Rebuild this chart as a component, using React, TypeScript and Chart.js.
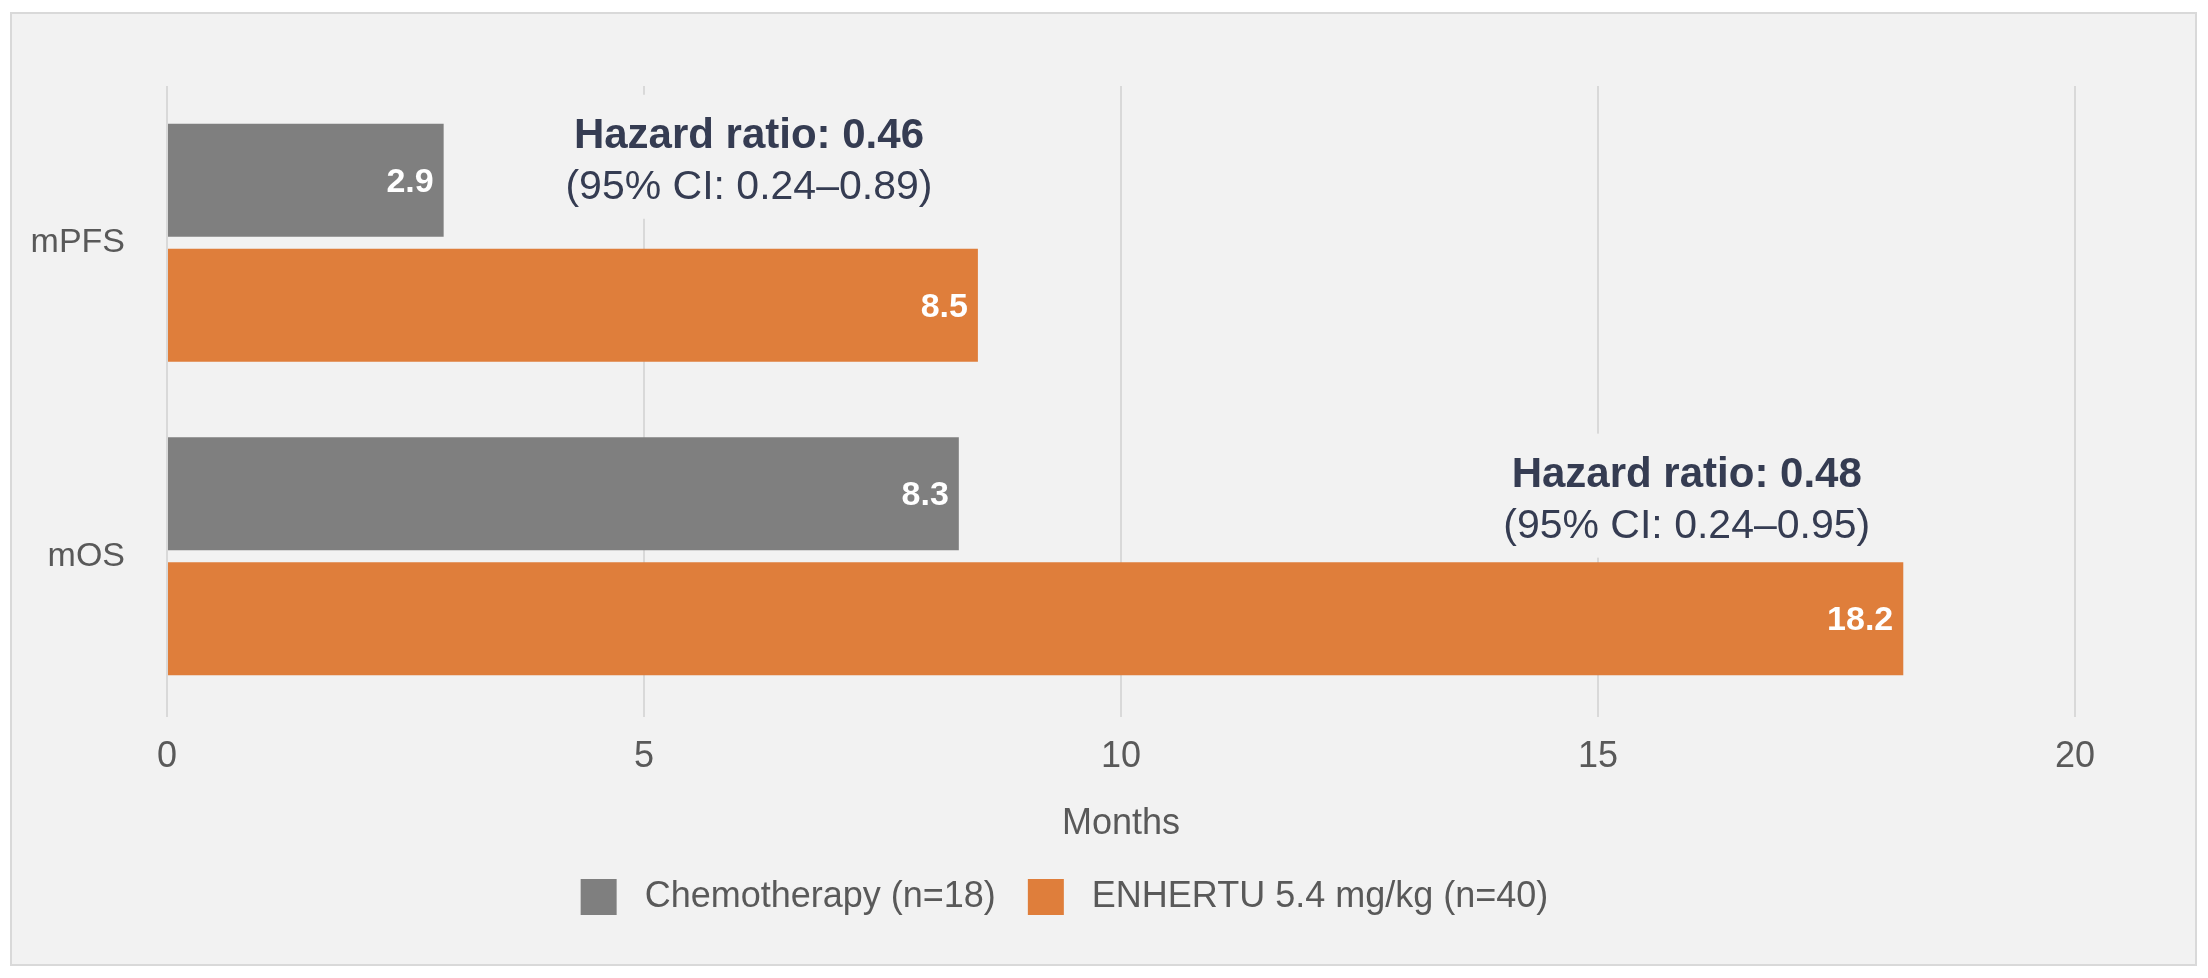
import React, { useEffect, useRef } from 'react';
import { Chart, registerables } from 'chart.js';

Chart.register(...registerables);

// ---- Data ----
const categories = ['mPFS', 'mOS'];
const seriesLabels = ['Chemotherapy (n=18)', 'ENHERTU 5.4 mg/kg (n=40)'];
const chemoValues = [2.9, 8.3];
const enhertuValues = [8.5, 18.2];
const xMin = 0;
const xMax = 20;
const xStep = 5;
const axisTitle = 'Months';
const hazardRatios = ['Hazard ratio: 0.46', 'Hazard ratio: 0.48'];
const confidenceIntervals = ['(95% CI: 0.24–0.89)', '(95% CI: 0.24–0.95)'];
// annotation anchors in data units (x value, category offset for first line baseline)
const noteXValues = [6.1, 15.93];
const noteCategoryOffsets = [-0.303, -0.222];

// ---- Styles ----
const FONT = '"Liberation Sans", Arial, sans-serif';
const GRAY = '#7f7f7f';
const ORANGE = '#df7e3b';
const TEXT = '#595959';
const NAVY = '#353c52';
const BG = '#f2f2f2';
const GRID = '#d9d9d9';

const barLabelsPlugin = {
  id: 'barLabels',
  afterDatasetsDraw(chart: any) {
    const { ctx } = chart;
    ctx.save();
    ctx.font = `bold 34px ${FONT}`;
    ctx.fillStyle = '#ffffff';
    ctx.textAlign = 'right';
    ctx.textBaseline = 'middle';
    chart.data.datasets.forEach((ds: any, di: number) => {
      const meta = chart.getDatasetMeta(di);
      meta.data.forEach((bar: any, i: number) => {
        ctx.fillText(String(ds.data[i]), bar.x - 10, bar.y + 2);
      });
    });
    ctx.restore();
  },
};

const notesPlugin = {
  id: 'hazardNotes',
  afterDatasetsDraw(chart: any) {
    const { ctx } = chart;
    const xs = chart.scales.x;
    const ys = chart.scales.y;
    ctx.save();
    hazardRatios.forEach((hr, i) => {
      const cx = xs.getPixelForValue(noteXValues[i]);
      const base1 = ys.getPixelForValue(i + noteCategoryOffsets[i]);
      const base2 = base1 + 51;
      const boldFont = `bold 42px ${FONT}`;
      const regFont = `41px ${FONT}`;
      ctx.font = boldFont;
      const w1 = ctx.measureText(hr).width;
      ctx.font = regFont;
      const w2 = ctx.measureText(confidenceIntervals[i]).width;
      const w = Math.max(w1, w2) + 40;
      ctx.fillStyle = BG;
      ctx.fillRect(cx - w / 2, base1 - 53, w, base2 + 20 - (base1 - 53));
      ctx.fillStyle = NAVY;
      ctx.textAlign = 'center';
      ctx.textBaseline = 'alphabetic';
      ctx.font = boldFont;
      ctx.fillText(hr, cx, base1);
      ctx.font = regFont;
      ctx.fillText(confidenceIntervals[i], cx, base2);
    });
    ctx.restore();
  },
};

export default function App() {
  const ref = useRef<HTMLCanvasElement>(null);

  useEffect(() => {
    if (!ref.current) return;
    const chart = new Chart(ref.current, {
      type: 'bar',
      data: {
        labels: categories,
        datasets: [
          {
            label: seriesLabels[0],
            data: chemoValues,
            backgroundColor: GRAY,
            borderWidth: 0,
            categoryPercentage: 0.797,
            barPercentage: 0.904,
          },
          {
            label: seriesLabels[1],
            data: enhertuValues,
            backgroundColor: ORANGE,
            borderWidth: 0,
            categoryPercentage: 0.797,
            barPercentage: 0.904,
          },
        ],
      },
      options: {
        indexAxis: 'y',
        responsive: false,
        animation: false,
        devicePixelRatio: 1,
        layout: { padding: { left: 0, top: 72, right: 78, bottom: 39 } },
        scales: {
          x: {
            min: xMin,
            max: xMax,
            ticks: {
              stepSize: xStep,
              color: TEXT,
              font: { family: FONT, size: 36 },
              padding: 18,
              maxRotation: 0,
            },
            grid: {
              color: GRID,
              lineWidth: 2,
              drawTicks: true,
              tickLength: 4,
              tickColor: GRID,
              tickWidth: 2,
            },
            border: { display: false },
            title: {
              display: true,
              text: axisTitle,
              color: TEXT,
              font: { family: FONT, size: 36 },
              padding: { top: 0, bottom: 1 },
            },
            afterFit(scale: any) {
              scale.height = 134;
            },
          },
          y: {
            ticks: {
              color: TEXT,
              font: { family: FONT, size: 34 },
              padding: 42,
            },
            grid: { display: false, drawTicks: false },
            border: { display: false },
            afterFit(scale: any) {
              scale.width = 155;
            },
          },
          ySpacer: {
            type: 'category',
            position: 'right',
            ticks: { display: false },
            grid: { display: false, drawTicks: false },
            border: { display: false },
            afterFit(scale: any) {
              scale.width = 42;
            },
          },
        },
        plugins: {
          legend: {
            position: 'bottom',
            labels: {
              boxWidth: 36,
              boxHeight: 36,
              padding: 32,
              color: TEXT,
              font: { family: FONT, size: 36 },
              generateLabels(c: any) {
                const items = Chart.defaults.plugins.legend.labels.generateLabels(c);
                return items.map((it: any) => ({ ...it, text: ' ' + it.text }));
              },
            },
          },
          tooltip: { enabled: false },
        },
      },
      plugins: [barLabelsPlugin, notesPlugin],
    } as any);
    return () => chart.destroy();
  }, []);

  return (
    <div style={{ position: 'absolute', left: 0, top: 0, width: 2208, height: 978, background: '#ffffff' }}>
      <div
        style={{
          position: 'absolute',
          left: 10,
          top: 12,
          width: 2187,
          height: 954,
          boxSizing: 'border-box',
          border: `2px solid ${GRID}`,
          background: BG,
        }}
      >
        <canvas ref={ref} width={2183} height={950} style={{ display: 'block', width: 2183, height: 950 }} />
      </div>
    </div>
  );
}
